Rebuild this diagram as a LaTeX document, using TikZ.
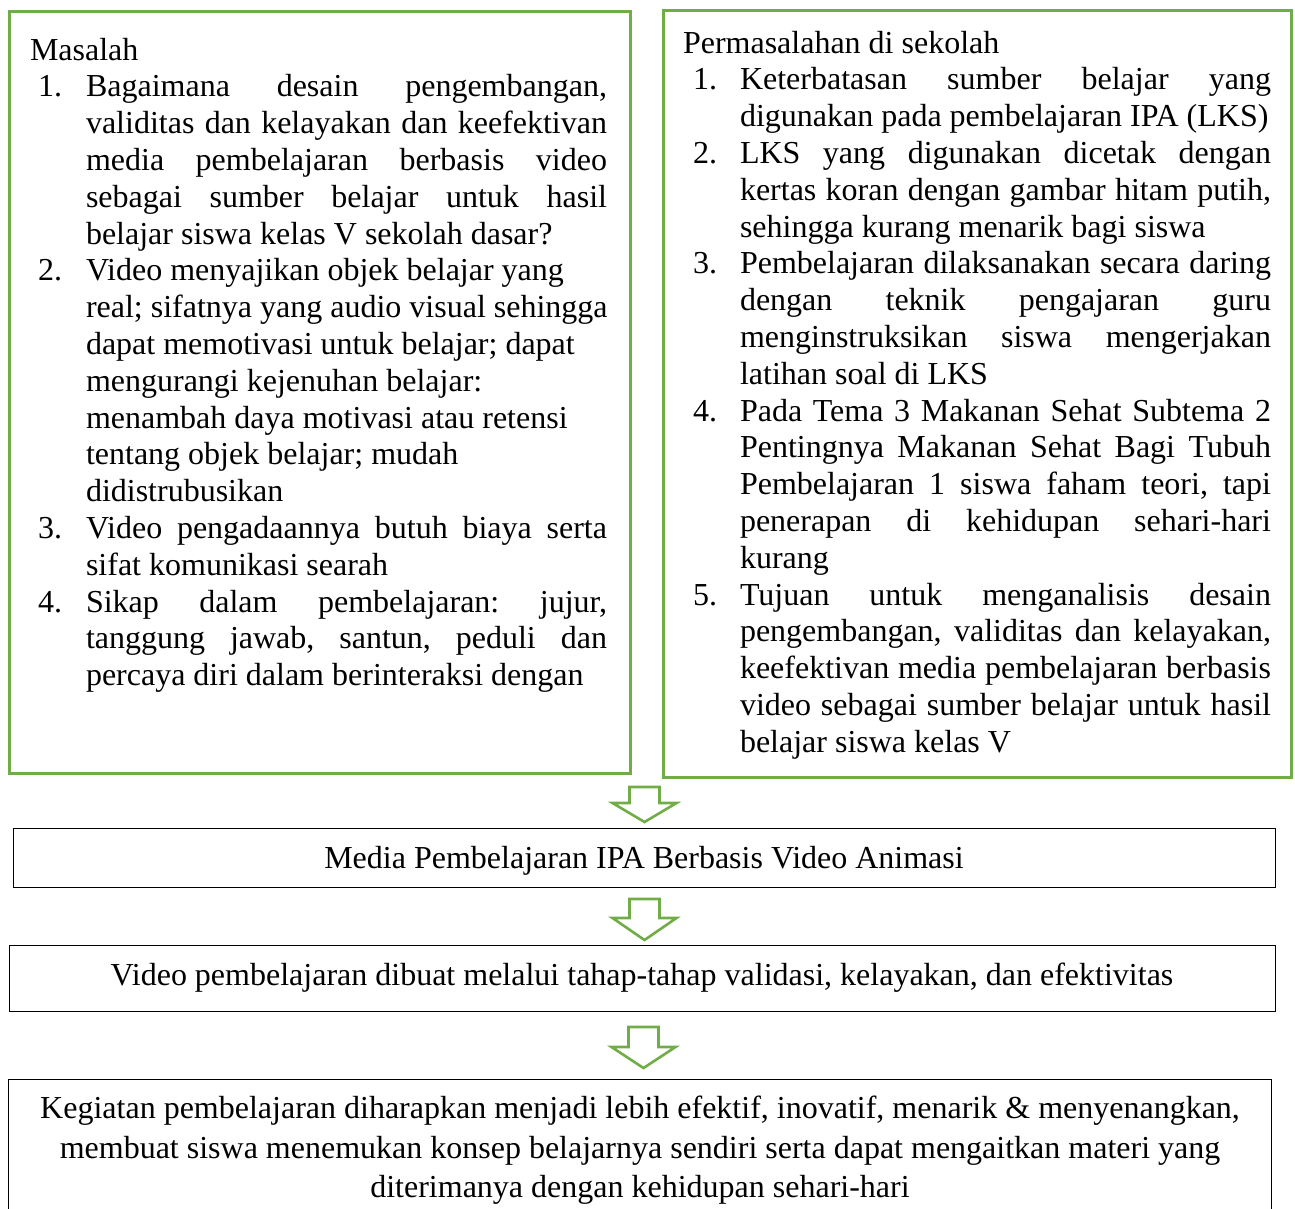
\documentclass[tikz,border=0pt]{standalone}
\usepackage{fontspec}
\setmainfont{Liberation Serif}
\frenchspacing
\definecolor{offgreen}{HTML}{70AD47}
\tikzset{
  gbox/.style={draw=offgreen, line width=2.6pt, rectangle, inner sep=0pt},
  kbox/.style={draw=black, line width=1.1pt, rectangle, inner sep=0pt},
  garrow/.style={draw=offgreen, line width=2.6pt, line join=miter},
  txt/.style={inner sep=0pt, outer sep=0pt, anchor=base west, font=\fontsize{32}{36.8}\selectfont\frenchspacing},
  ctxt/.style={inner sep=0pt, outer sep=0pt, anchor=base, font=\fontsize{32}{36.8}\selectfont\frenchspacing},
}
\newcommand\Ljust[1]{\makebox[521pt][s]{#1}}
\newcommand\Rjust[1]{\makebox[531pt][s]{#1}}
\newcommand\blockarr[5]{% name, x, top, headY, tip
  \coordinate (#1s) at (#2,#3);
  \coordinate (#1e) at (#2,#5);
  \draw[garrow] (#2-15,#3) -- (#2+15,#3) -- (#2+15,#4) -- (#2+32,#4) -- (#1e) -- (#2-32,#4) -- (#2-15,#4) -- cycle;}
\begin{document}
\begin{tikzpicture}[x=1pt,y=-1pt]
\useasboundingbox (0,0) rectangle (1295,1208);
% boxes
\node[gbox, minimum width=621pt, minimum height=762pt, anchor=north west] (masalah) at (8,10) {};
\node[gbox, minimum width=628pt, minimum height=767pt, anchor=north west] (perm) at (662,9) {};
\node[kbox, minimum width=1262pt, minimum height=59pt, anchor=north west] (media) at (13,828) {};
\node[kbox, minimum width=1266pt, minimum height=66pt, anchor=north west] (video) at (9,945) {};
\node[kbox, minimum width=1263pt, minimum height=160pt, anchor=north west] (hasil) at (8,1079) {};
% arrows
\blockarr{a1}{644.5}{787}{803}{822}
\blockarr{a2}{644.5}{899}{918}{940}
\blockarr{a3}{643.5}{1027}{1047}{1068}
% left text
\node[txt] (l0) at (30,60) {Masalah};
\node[txt] (l1n) at (38,96.8) {1.};
\node[txt] (l1) at (86,96.8) {\Ljust{Bagaimana desain pengembangan,}};
\node[txt] (l2) at (86,133.6) {\Ljust{validitas dan kelayakan dan keefektivan}};
\node[txt] (l3) at (86,170.4) {\Ljust{media pembelajaran berbasis video}};
\node[txt] (l4) at (86,207.2) {\Ljust{sebagai sumber belajar untuk hasil}};
\node[txt] (l5) at (86,244.0) {belajar siswa kelas V sekolah dasar?};
\node[txt] (l6n) at (38,280.8) {2.};
\node[txt] (l6) at (86,280.8) {Video menyajikan objek belajar yang};
\node[txt] (l7) at (86,317.6) {real; sifatnya yang audio visual sehingga};
\node[txt] (l8) at (86,354.4) {dapat memotivasi untuk belajar; dapat};
\node[txt] (l9) at (86,391.2) {mengurangi kejenuhan belajar:};
\node[txt] (l10) at (86,428.0) {menambah daya motivasi atau retensi};
\node[txt] (l11) at (86,464.8) {tentang objek belajar; mudah};
\node[txt] (l12) at (86,501.6) {didistrubusikan};
\node[txt] (l13n) at (38,538.4) {3.};
\node[txt] (l13) at (86,538.4) {\Ljust{Video pengadaannya butuh biaya serta}};
\node[txt] (l14) at (86,575.2) {sifat komunikasi searah};
\node[txt] (l15n) at (38,612.0) {4.};
\node[txt] (l15) at (86,612.0) {\Ljust{Sikap dalam pembelajaran: jujur,}};
\node[txt] (l16) at (86,648.8) {\Ljust{tanggung jawab, santun, peduli dan}};
\node[txt] (l17) at (86,685.6) {percaya diri dalam berinteraksi dengan};
% right text
\node[txt] (r0) at (683,53) {Permasalahan di sekolah};
\node[txt] (r1n) at (693,89.8) {1.};
\node[txt] (r1) at (740,89.8) {\Rjust{Keterbatasan sumber belajar yang}};
\node[txt] (r2) at (740,126.6) {digunakan pada pembelajaran IPA (LKS)};
\node[txt] (r3n) at (693,163.4) {2.};
\node[txt] (r3) at (740,163.4) {\Rjust{LKS yang digunakan dicetak dengan}};
\node[txt] (r4) at (740,200.2) {\Rjust{kertas koran dengan gambar hitam putih,}};
\node[txt] (r5) at (740,237.0) {sehingga kurang menarik bagi siswa};
\node[txt] (r6n) at (693,273.8) {3.};
\node[txt] (r6) at (740,273.8) {\Rjust{Pembelajaran dilaksanakan secara daring}};
\node[txt] (r7) at (740,310.6) {\Rjust{dengan teknik pengajaran guru}};
\node[txt] (r8) at (740,347.4) {\Rjust{menginstruksikan siswa mengerjakan}};
\node[txt] (r9) at (740,384.2) {latihan soal di LKS};
\node[txt] (r10n) at (693,421.0) {4.};
\node[txt] (r10) at (740,421.0) {\Rjust{Pada Tema 3 Makanan Sehat Subtema 2}};
\node[txt] (r11) at (740,457.8) {\Rjust{Pentingnya Makanan Sehat Bagi Tubuh}};
\node[txt] (r12) at (740,494.6) {\Rjust{Pembelajaran 1 siswa faham teori, tapi}};
\node[txt] (r13) at (740,531.4) {\Rjust{penerapan di kehidupan sehari-hari}};
\node[txt] (r14) at (740,568.2) {kurang};
\node[txt] (r15n) at (693,605.0) {5.};
\node[txt] (r15) at (740,605.0) {\Rjust{Tujuan untuk menganalisis desain}};
\node[txt] (r16) at (740,641.8) {\Rjust{pengembangan, validitas dan kelayakan,}};
\node[txt] (r17) at (740,678.6) {\Rjust{keefektivan media pembelajaran berbasis}};
\node[txt] (r18) at (740,715.4) {\Rjust{video sebagai sumber belajar untuk hasil}};
\node[txt] (r19) at (740,752.2) {belajar siswa kelas V};
% lower texts
\node[ctxt] (mt) at (644,868) {Media Pembelajaran IPA Berbasis Video Animasi};
\node[ctxt] (vt) at (642,985) {Video pembelajaran dibuat melalui tahap-tahap validasi, kelayakan, dan efektivitas};
\node[ctxt] (h1) at (640,1118) {Kegiatan pembelajaran diharapkan menjadi lebih efektif, inovatif, menarik \& menyenangkan,};
\node[ctxt] (h2) at (640,1158) {membuat siswa menemukan konsep belajarnya sendiri serta dapat mengaitkan materi yang};
\node[ctxt] (h3) at (640,1197) {diterimanya dengan kehidupan sehari-hari};
\end{tikzpicture}
\end{document}
